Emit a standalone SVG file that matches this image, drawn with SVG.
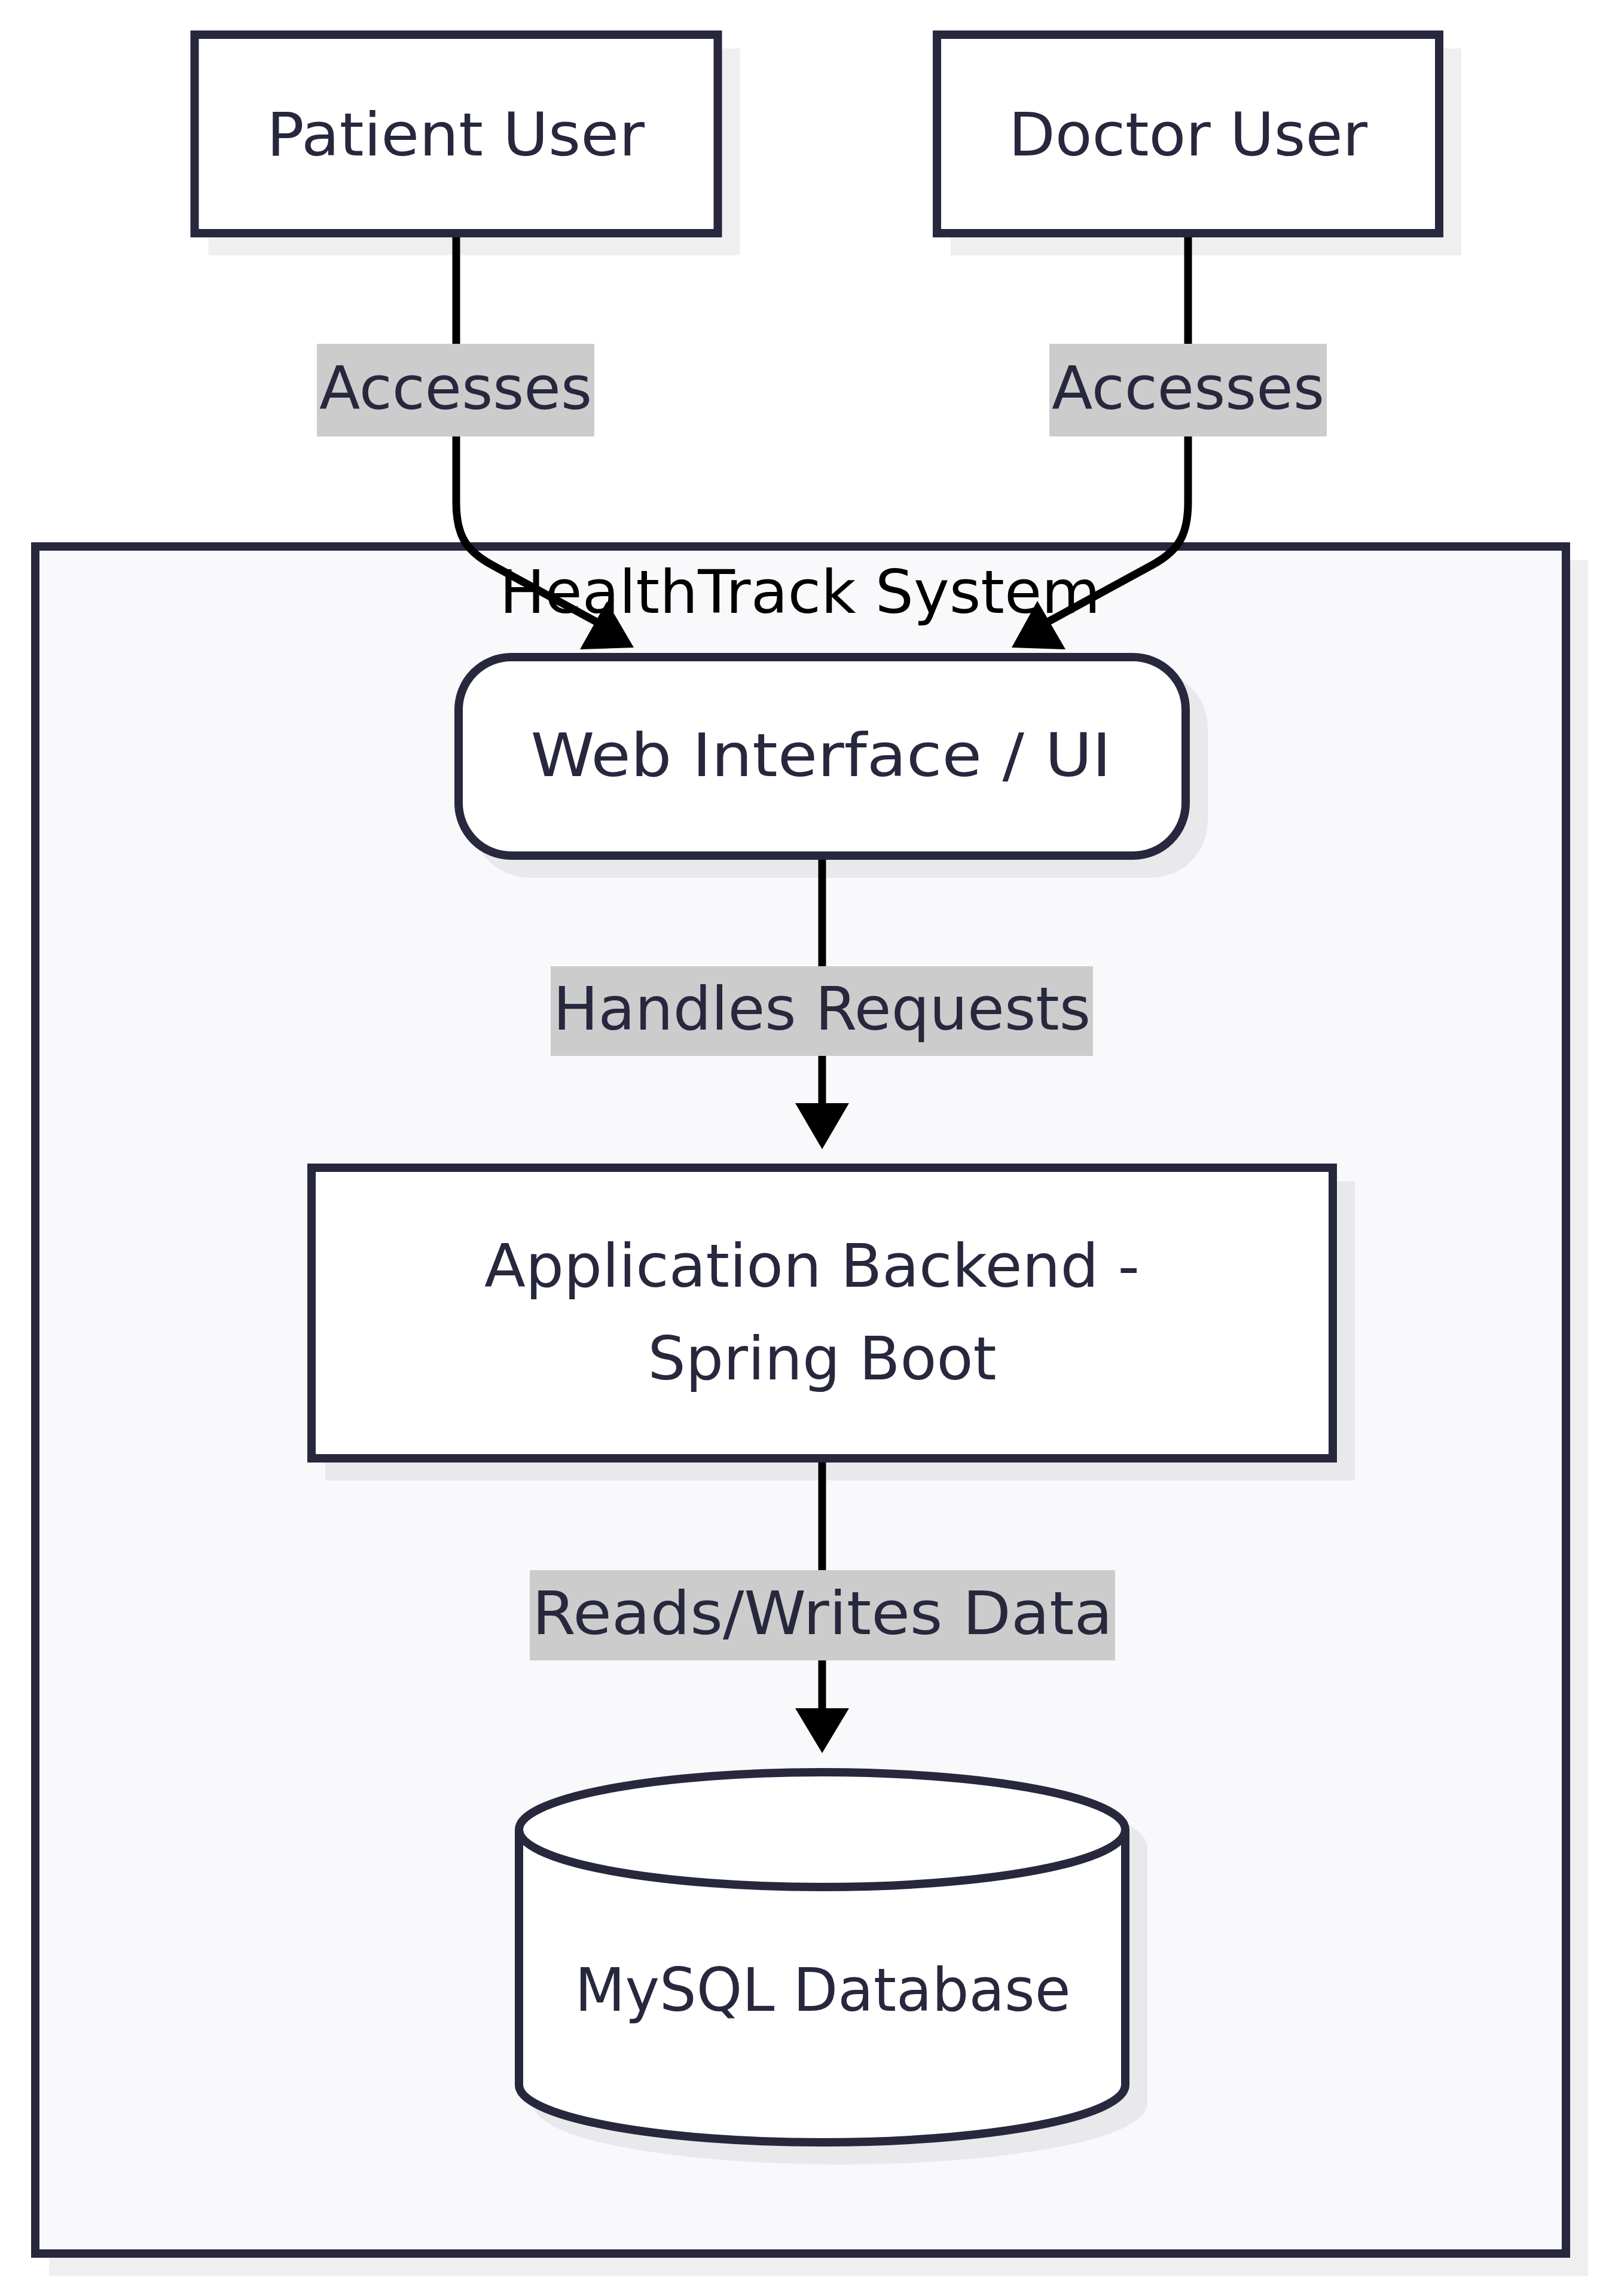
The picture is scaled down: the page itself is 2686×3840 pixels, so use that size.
<svg xmlns="http://www.w3.org/2000/svg" width="2686" height="3840" viewBox="0 0 2686 3840">
<style>
.node{fill:#ffffff;stroke:#27273d;stroke-width:14}
.shadow{fill:#000000;stroke:#000000;stroke-width:14}
.ntext{font-family:"DejaVu Sans","Liberation Sans",sans-serif;font-size:100px;fill:#27273d;text-anchor:middle}
.ttext{font-family:"DejaVu Sans","Liberation Sans",sans-serif;font-size:100px;fill:#000000;text-anchor:middle}
.lbg{fill:#cccccc}
.edge{fill:none;stroke:#000000;stroke-width:13}
.head{fill:#000000}
</style>
<rect width="2686" height="3840" fill="#ffffff"/>
<g id="cluster-healthtrack">
  <rect x="89" y="944" width="2560" height="2855" fill="#000000" stroke="#000000" stroke-width="14" opacity="0.06"/>
  <rect x="59" y="914" width="2560" height="2855" fill="#f9f9fb" stroke="#27273d" stroke-width="14"/>
  <text class="ttext" x="1338" y="1025" textLength="1005" lengthAdjust="spacingAndGlyphs">HealthTrack System</text>
</g>
<g id="node-patient">
  <rect class="shadow" opacity="0.06" x="355.5" y="88" width="875" height="332"/>
  <rect class="node" x="325.5" y="58" width="875" height="332"/>
  <text class="ntext" x="762" y="260" textLength="632" lengthAdjust="spacingAndGlyphs">Patient User</text>
</g>
<g id="node-doctor">
  <rect class="shadow" opacity="0.06" x="1597" y="88" width="840" height="332"/>
  <rect class="node" x="1567" y="58" width="840" height="332"/>
  <text class="ntext" x="1987" y="260" textLength="600" lengthAdjust="spacingAndGlyphs">Doctor User</text>
</g>
<g id="node-web">
  <rect class="shadow" opacity="0.06" x="797" y="1129" width="1216" height="332" rx="88" ry="88"/>
  <rect class="node" x="767" y="1099" width="1216" height="332" rx="88" ry="88"/>
  <text class="ntext" x="1373" y="1298" textLength="971" lengthAdjust="spacingAndGlyphs">Web Interface / UI</text>
</g>
<g id="node-backend">
  <rect class="shadow" opacity="0.06" x="551" y="1983" width="1708" height="486"/>
  <rect class="node" x="521" y="1953" width="1708" height="486"/>
  <text class="ntext" x="1358" y="2152" textLength="1096" lengthAdjust="spacingAndGlyphs">Application Backend -</text>
  <text class="ntext" x="1375" y="2307" textLength="583" lengthAdjust="spacingAndGlyphs">Spring Boot</text>
</g>
<g id="node-db">
  <path class="shadow" opacity="0.06" transform="translate(30,30)" d="M868,3060 A507,96 0 0,0 1882,3060 A507,96 0 0,0 868,3060 L868,3487 A507,96 0 0,0 1882,3487 L1882,3060"/>
  <path class="node" d="M868,3060 A507,96 0 0,0 1882,3060 A507,96 0 0,0 868,3060 L868,3487 A507,96 0 0,0 1882,3487 L1882,3060"/>
  <text class="ntext" x="1376" y="3363" textLength="829" lengthAdjust="spacingAndGlyphs">MySQL Database</text>
</g>
<g id="connectors">
  <g id="edge-patient-web">
    <path class="edge" d="M763,397 L763,840 C763,895 779,921 823,945 L1003,1043"/>
    <polygon class="head" points="970,1086 1060,1083 1015,1006"/>
    <rect class="lbg" x="530" y="575" width="464" height="155"/>
    <text class="ntext" x="762" y="684" textLength="456" lengthAdjust="spacingAndGlyphs">Accesses</text>
  </g>
  <g id="edge-doctor-web">
    <path class="edge" d="M1987,397 L1987,840 C1987,895 1971,921 1927,945 L1747,1043"/>
    <polygon class="head" points="1692,1083 1782,1086 1735,1005"/>
    <rect class="lbg" x="1755" y="575" width="464" height="155"/>
    <text class="ntext" x="1987" y="684" textLength="456" lengthAdjust="spacingAndGlyphs">Accesses</text>
  </g>
  <g id="edge-web-backend">
    <path class="edge" d="M1375,1438 L1375,1850"/>
    <polygon class="head" points="1330,1845 1420,1845 1375,1922"/>
    <rect class="lbg" x="921" y="1616" width="907" height="150"/>
    <text class="ntext" x="1374.5" y="1722" textLength="899" lengthAdjust="spacingAndGlyphs">Handles Requests</text>
  </g>
  <g id="edge-backend-db">
    <path class="edge" d="M1375,2446 L1375,2862"/>
    <polygon class="head" points="1330,2857 1420,2857 1375,2932"/>
    <rect class="lbg" x="886" y="2626" width="979" height="151"/>
    <text class="ntext" x="1375.5" y="2733" textLength="971" lengthAdjust="spacingAndGlyphs">Reads/Writes Data</text>
  </g>
</g>
</svg>
